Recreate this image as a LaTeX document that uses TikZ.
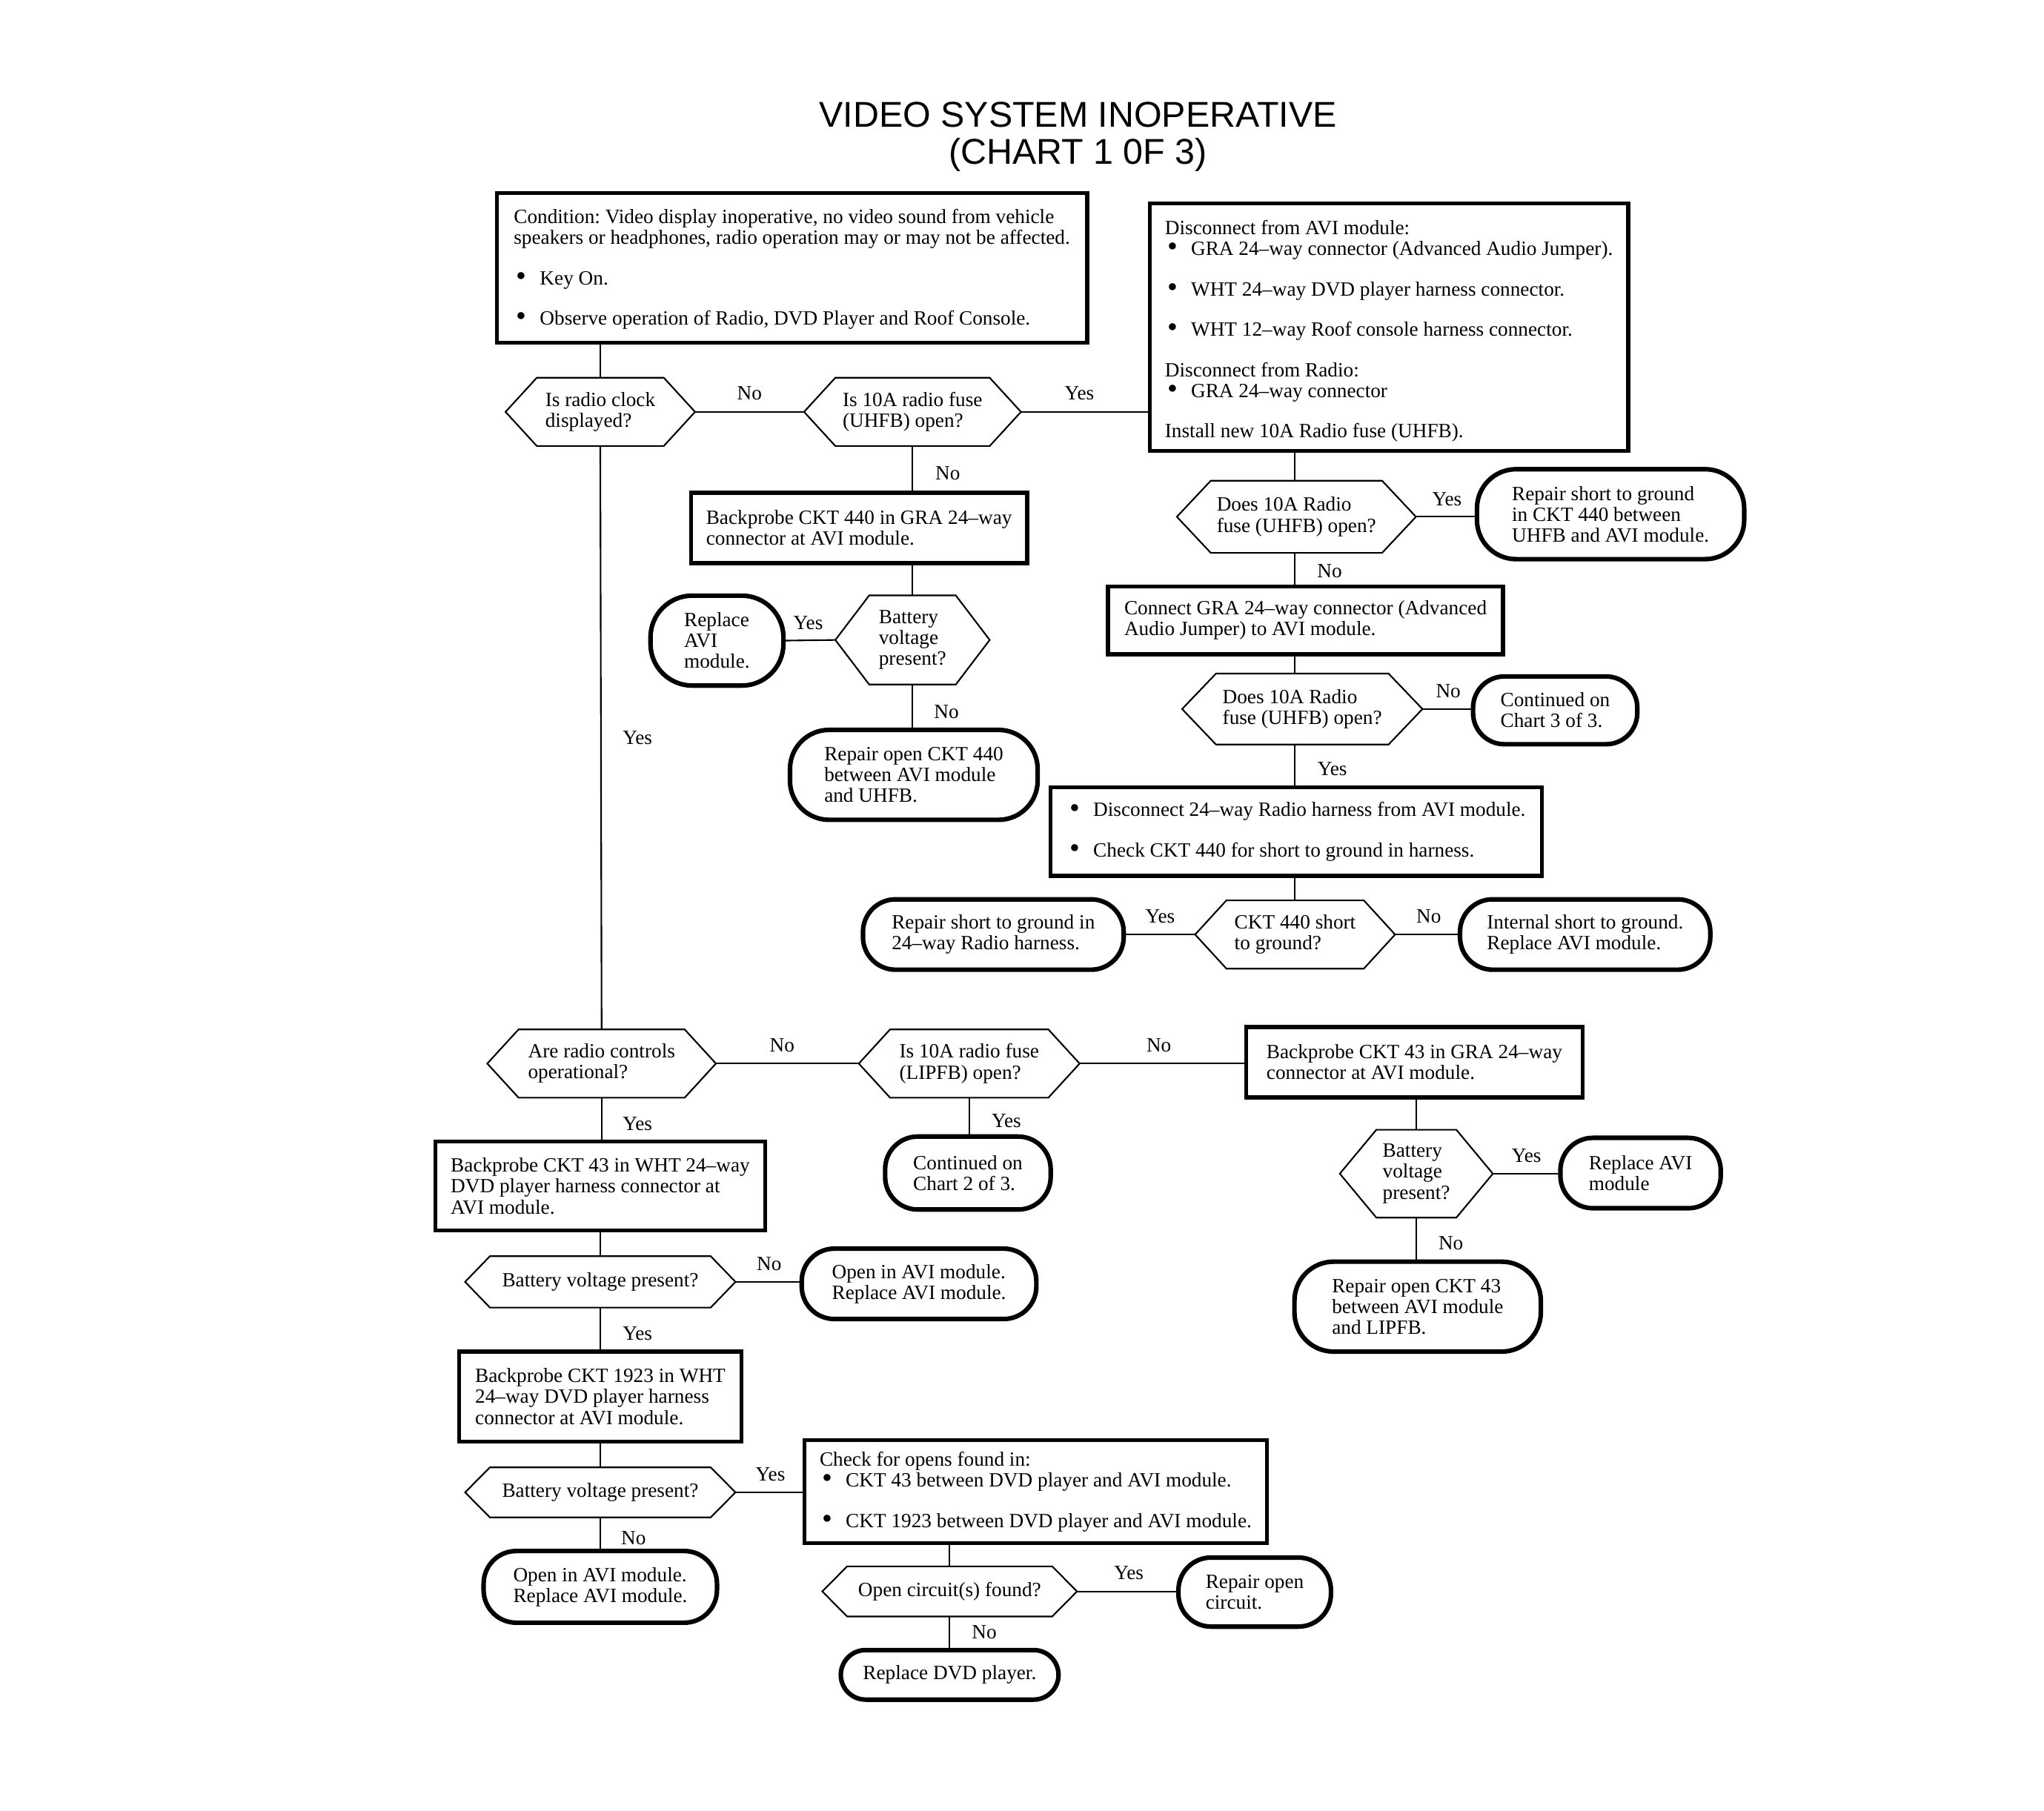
\documentclass[tikz,border=0pt]{standalone}
\usepackage{fontspec}
\usepackage{graphicx}
\setmainfont{Liberation Serif}
\newfontfamily\titlefont{Liberation Sans}
\newcommand\fs{\fontsize{15.5}{16}\selectfont\frenchspacing}
\newcommand\bul{\makebox[20pt][l]{\hspace{2pt}\smash{\raisebox{-0.8pt}{\scalebox{1.45}{•}}}}}
\tikzset{
  txt/.style={font=\fs, align=left, inner sep=0pt},
  box/.style={txt, draw, line width=3pt},
  term/.style={txt, draw, line width=3.5pt, rounded corners=#1},
  hexbase/.style={txt},
  hexline/.style={line width=1.2pt, line join=miter},
  conn/.style={line width=1.2pt},
  lbl/.style={font=\fs, inner sep=0pt}
}
% name, x, y, width, height, slant, text
\newcommand\hexa[7]{%
  \node[hexbase, minimum width=#4pt, minimum height=#5pt] (#1) at (#2,#3) {#7};
  \draw[hexline] (#1.west) -- ([xshift=#6pt]#1.north west) -- ([xshift=-#6pt]#1.north east)
     -- (#1.east) -- ([xshift=-#6pt]#1.south east) -- ([xshift=#6pt]#1.south west) -- cycle;}
\begin{document}
\begin{tikzpicture}[x=1pt, y=-1pt]
\useasboundingbox (0,0) rectangle (1568,1389);
\fill[white] (0,0) rectangle (1568,1389);

\node[font=\titlefont\fontsize{27.5}{28}\selectfont, align=center, inner sep=0pt] (title) at (827,105)
  {VIDEO SYSTEM INOPERATIVE\\(CHART 1 0F 3)};

% ---------- top part ----------
\node[box, minimum width=453pt, minimum height=115pt] (cond) at (607.5,205.5)
 {\rule{0pt}{13pt}Condition: Video display inoperative, no video sound from vehicle\\
  speakers or headphones, radio operation may or may not be affected.\\[15pt]
  \bul Key On.\\[15pt]
  \bul Observe operation of Radio, DVD Player and Roof Console.};

\node[box, minimum width=367pt, minimum height=190pt] (disc) at (1065.5,251)
 {\rule{0pt}{17pt}Disconnect from AVI module:\\
  \bul GRA 24–way connector (Advanced Audio Jumper).\\[15pt]
  \bul WHT 24–way DVD player harness connector.\\[15pt]
  \bul WHT 12–way Roof console harness connector.\\[15pt]
  Disconnect from Radio:\\
  \bul GRA 24–way connector\\[15pt]
  Install new 10A Radio fuse (UHFB).};

\hexa{d1}{460.5}{316}{145}{52}{24}{Is radio clock\\displayed?}
\hexa{d2}{700}{316}{166}{52}{24}{Is 10A radio fuse\\(UHFB) open?}
\node[box, minimum width=258pt, minimum height=54pt] (b1) at (659,405)
 {Backprobe CKT 440 in GRA 24–way\\connector at AVI module.};
\hexa{d3}{700}{491}{118}{68}{26}{Battery\\voltage\\present?}
\node[term=32pt, minimum width=102pt, minimum height=69pt] (t1) at (550,491.5)
 {Replace\\AVI\\module.};
\node[term=30pt, minimum width=190pt, minimum height=69pt] (t2) at (701,594.5)
 {Repair open CKT 440\\between AVI module\\and UHFB.};

\hexa{d5}{994.5}{396.5}{183}{55}{26}{Does 10A Radio\\fuse (UHFB) open?}
\node[term=30pt, minimum width=205pt, minimum height=69pt] (t3) at (1235.5,394.5)
 {Repair short to ground\\in CKT 440 between\\UHFB and AVI module.};
\node[box, minimum width=303pt, minimum height=52pt] (b2) at (1001.5,476)
 {Connect GRA 24–way connector (Advanced\\Audio Jumper) to AVI module.};
\hexa{d6}{999}{544}{184}{54}{26}{Does 10A Radio\\fuse (UHFB) open?}
\node[term=24pt, minimum width=126pt, minimum height=52pt] (t4) at (1193,545)
 {Continued on\\Chart 3 of 3.};
\node[box, minimum width=377pt, minimum height=68pt] (b3) at (994.5,638)
 {\bul Disconnect 24–way Radio harness from AVI module.\\[15pt]
  \bul Check CKT 440 for short to ground in harness.};
\hexa{d7}{993.5}{717}{153}{52}{24}{CKT 440 short\\to ground?}
\node[term=25pt, minimum width=200pt, minimum height=54pt] (t5) at (762,717)
 {Repair short to ground in\\24–way Radio harness.};
\node[term=25pt, minimum width=192pt, minimum height=54pt] (t6) at (1216,717)
 {Internal short to ground.\\Replace AVI module.};

% ---------- lower part ----------
\hexa{d4}{461.5}{816}{175}{52}{24}{Are radio controls\\operational?}
\hexa{d8}{743.5}{816}{169}{52}{24}{Is 10A radio fuse\\(LIPFB) open?}
\node[box, minimum width=258pt, minimum height=54pt] (b4) at (1085,815)
 {Backprobe CKT 43 in GRA 24–way\\connector at AVI module.};
\hexa{d9}{1086.5}{900.5}{117}{67}{28}{Battery\\voltage\\present?}
\node[term=25pt, minimum width=123pt, minimum height=54pt] (t7) at (1258.5,900)
 {Replace AVI\\module};
\node[term=30pt, minimum width=189pt, minimum height=69pt] (t8) at (1087.5,1002.5)
 {Repair open CKT 43\\between AVI module\\and LIPFB.};
\node[term=25pt, minimum width=127pt, minimum height=56pt] (t9) at (742.5,900)
 {Continued on\\Chart 2 of 3.};

\node[box, minimum width=253pt, minimum height=68pt] (b5) at (460.5,910)
 {Backprobe CKT 43 in WHT 24–way\\DVD player harness connector at\\AVI module.};
\hexa{d10}{460.5}{983.5}{207}{39}{19}{Battery voltage present?}
\node[term=25pt, minimum width=180pt, minimum height=54pt] (t10) at (705,985)
 {Open in AVI module.\\Replace AVI module.};
\node[box, minimum width=217pt, minimum height=69pt] (b6) at (460.5,1071.5)
 {Backprobe CKT 1923 in WHT\\24–way DVD player harness\\connector at AVI module.};
\hexa{d11}{460.5}{1145}{207}{38}{19}{Battery voltage present?}
\node[box, minimum width=355pt, minimum height=79pt] (b7) at (794.5,1144.5)
 {Check for opens found in:\\
  \bul CKT 43 between DVD player and AVI module.\\[15pt]
  \bul CKT 1923 between DVD player and AVI module.};
\node[term=25pt, minimum width=179pt, minimum height=55pt] (t11) at (460.5,1217.5)
 {Open in AVI module.\\Replace AVI module.};
\hexa{d12}{728.5}{1221}{195}{38}{19}{Open circuit(s) found?}
\node[term=25pt, minimum width=117pt, minimum height=53pt] (t12) at (962.5,1221.5)
 {Repair open\\circuit.};
\node[term=19pt, minimum width=167pt, minimum height=38pt] (t13) at (728.5,1285)
 {Replace DVD player.};

% ---------- connectors ----------
\draw[conn] (d1.north |- cond.south) -- (d1.north);
\draw[conn] (d1.south) -- (d4.north);
\draw[conn] (d1.east) -- (d2.west);
\draw[conn] (d2.east) -- (d2.east -| disc.west);
\draw[conn] (d2.south) -- (d2.south |- b1.north);
\draw[conn] (d3.north |- b1.south) -- (d3.north);
\draw[conn] (d3.west) -- (t1.east);
\draw[conn] (d3.south) -- (d3.south |- t2.north);

\coordinate (sp) at (993,0);
\draw[conn] (sp |- disc.south) -- (sp |- d5.north);
\draw[conn] (d5.east) -- (d5.east -| t3.west);
\draw[conn] (sp |- d5.south) -- (sp |- b2.north);
\draw[conn] (sp |- b2.south) -- (sp |- d6.north);
\draw[conn] (d6.east) -- (d6.east -| t4.west);
\draw[conn] (sp |- d6.south) -- (sp |- b3.north);
\draw[conn] (sp |- b3.south) -- (sp |- d7.north);
\draw[conn] (d7.west) -- (t5.east);
\draw[conn] (d7.east) -- (t6.west);

\draw[conn] (d4.east) -- (d8.west);
\draw[conn] (d8.east) -- (d8.east -| b4.west);
\draw[conn] (d9.north |- b4.south) -- (d9.north);
\draw[conn] (d9.east) -- (d9.east -| t7.west);
\draw[conn] (d9.south) -- (d9.south |- t8.north);
\draw[conn] (d8.south) -- (d8.south |- t9.north);
\draw[conn] (d4.south) -- (d4.south |- b5.north);
\draw[conn] (d10.north |- b5.south) -- (d10.north);
\draw[conn] (d10.east) -- (d10.east -| t10.west);
\draw[conn] (d10.south) -- (d10.south |- b6.north);
\draw[conn] (d11.north |- b6.south) -- (d11.north);
\draw[conn] (d11.east) -- (d11.east -| b7.west);
\draw[conn] (d11.south) -- (d11.south |- t11.north);
\draw[conn] (d12.north |- b7.south) -- (d12.north);
\draw[conn] (d12.east) -- (d12.east -| t12.west);
\draw[conn] (d12.south) -- (d12.south |- t13.north);

% ---------- labels ----------
\node[lbl] (l1) at (575,302) {No};
\node[lbl] (l2) at (828,302) {Yes};
\node[lbl] (l3) at (727,363) {No};
\node[lbl] (l4) at (620,478) {Yes};
\node[lbl] (l5) at (726,546) {No};
\node[lbl] (l6) at (489,566) {Yes};
\node[lbl] (l7) at (1110,383) {Yes};
\node[lbl] (l8) at (1020,438) {No};
\node[lbl] (l9) at (1111,530) {No};
\node[lbl] (l10) at (1022,590) {Yes};
\node[lbl] (l11) at (890,703) {Yes};
\node[lbl] (l12) at (1096,703) {No};
\node[lbl] (l13) at (600,802) {No};
\node[lbl] (l14) at (889,802) {No};
\node[lbl] (l15) at (1171,887) {Yes};
\node[lbl] (l16) at (1113,954) {No};
\node[lbl] (l17) at (772,860) {Yes};
\node[lbl] (l18) at (489,862) {Yes};
\node[lbl] (l19) at (590,970) {No};
\node[lbl] (l20) at (489,1023) {Yes};
\node[lbl] (l21) at (591,1131) {Yes};
\node[lbl] (l22) at (486,1180) {No};
\node[lbl] (l23) at (866,1207) {Yes};
\node[lbl] (l24) at (755,1252) {No};
\end{tikzpicture}
\end{document}
